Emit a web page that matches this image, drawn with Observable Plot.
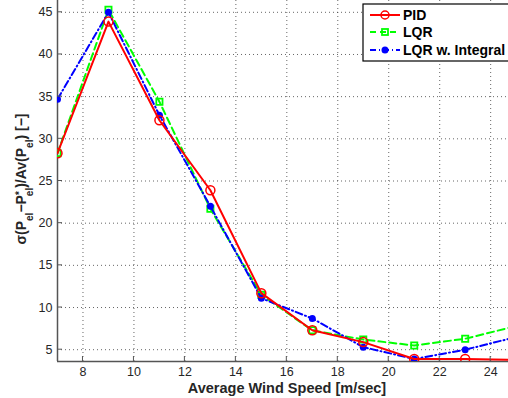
<!DOCTYPE html>
<html><head><meta charset="utf-8">
<script src="https://cdn.jsdelivr.net/npm/d3@7"></script>
<script src="https://cdn.jsdelivr.net/npm/@observablehq/plot@0.6"></script>
<style>body{margin:0;background:#fff}</style>
</head><body><div id="chart"></div>
<script>
const windSpeed = [7, 9, 11, 13, 15, 17, 19, 21, 23, 25];
const pid = [28.3, 43.9, 32.2, 23.9, 11.7, 7.3, 5.9, 3.9, 3.9, 3.8];
const lqr = [28.3, 45.3, 34.4, 21.7, 11.5, 7.3, 6.2, 5.5, 6.3, 7.8];
const lqrInt = [34.7, 45.0, 32.8, 22.0, 11.1, 8.7, 5.3, 3.9, 5.0, 6.5];
const xTicks = [8, 10, 12, 14, 16, 18, 20, 22, 24];
const yTicks = [5, 10, 15, 20, 25, 30, 35, 40, 45];
const seriesNames = ["PID", "LQR", "LQR w. Integral"];

const rows = (vals) => windSpeed.map((x, i) => ({x, y: vals[i]}));
const dPID = rows(pid), dLQR = rows(lqr), dInt = rows(lqrInt);

const font = "Liberation Sans, Arial, Helvetica, sans-serif";
const plot = Plot.plot({
  width: 508, height: 398,
  marginLeft: 57, marginRight: 0, marginTop: 0, marginBottom: 37,
  style: {fontFamily: font, fontSize: "12.5px", color: "#262626", background: "#fff"},
  x: {domain: [7, 24.7]},
  y: {domain: [3.6, 46.4]},
  marks: [
    Plot.gridX(xTicks, {stroke: "#333", strokeOpacity: 0.75, strokeDasharray: "1,3"}),
    Plot.gridY(yTicks, {stroke: "#333", strokeOpacity: 0.75, strokeDasharray: "1,3"}),
    Plot.axisX(xTicks, {tickSize: 0, tickPadding: 6, fontSize: 12.5, label: null}),
    Plot.axisY(yTicks, {tickSize: 0, tickPadding: 5, fontSize: 12.5, label: null}),
    Plot.ruleX([7], {stroke: "#555", strokeWidth: 1.5}),
    Plot.ruleY([3.6], {stroke: "#555", strokeWidth: 1.5}),
    Plot.line(dLQR, {x: "x", y: "y", stroke: "#00ff00", strokeWidth: 2, strokeDasharray: "7,4", clip: true}),
    Plot.dot(dLQR, {x: "x", y: "y", symbol: "square", r: 3.5, stroke: "#00ff00", strokeWidth: 1.8, fill: "none", clip: true}),
    Plot.line(dInt, {x: "x", y: "y", stroke: "#0000ff", strokeWidth: 2, strokeDasharray: "7,3,1,3", clip: true}),
    Plot.dot(dInt, {x: "x", y: "y", r: 3.5, fill: "#0000ff", stroke: "none", clip: true}),
    Plot.line(dPID, {x: "x", y: "y", stroke: "#ff0000", strokeWidth: 2, clip: true}),
    Plot.dot(dPID, {x: "x", y: "y", r: 4.5, stroke: "#ff0000", strokeWidth: 1.5, fill: "none", clip: true})
  ]
});
document.getElementById("chart").appendChild(plot);

const svg = d3.select(plot);
const xs = plot.scale("x"), ys = plot.scale("y");
// inward ticks
const tg = svg.append("g").attr("stroke", "#555");
xTicks.forEach(t => {
  const px = xs.apply(t);
  tg.append("line").attr("x1", px).attr("x2", px).attr("y1", 361).attr("y2", 356);
});
yTicks.forEach(t => {
  const py = ys.apply(t);
  tg.append("line").attr("x1", 57).attr("x2", 62).attr("y1", py).attr("y2", py);
});

// axis labels
svg.append("text").attr("x", 287).attr("y", 393).attr("text-anchor", "middle")
  .attr("font-family", font).attr("font-size", 14.5).attr("font-weight", "bold").attr("fill", "#262626")
  .text("Average Wind Speed [m/sec]");

const yl = svg.append("text").attr("transform", "translate(26,179) rotate(-90)")
  .attr("text-anchor", "middle").attr("font-family", font).attr("font-size", 14)
  .attr("font-weight", "bold").attr("fill", "#262626");
const parts = [["σ(P",0,0],["el",7,0],["−P",-7,0],["*",-3,0],["el",10,-5],[")/Av(P",-7,0],["el",7,0],[") [−]",-7,0]];
parts.forEach(([t, dy, dx]) => {
  const s = yl.append("tspan").attr("dy", dy).attr("dx", dx).text(t);
  if (t === "el" || t === "*") s.attr("font-size", 10);
});

// legend
const lg = svg.append("g").attr("text-anchor", "start");
lg.append("rect").attr("x", 363).attr("y", 4).attr("width", 150).attr("height", 57)
  .attr("fill", "#fff").attr("stroke", "#000").attr("stroke-width", 1.2);
const items = [
  {name: seriesNames[0], color: "#ff0000", dash: null, y: 15},
  {name: seriesNames[1], color: "#00ff00", dash: "6,4", y: 32},
  {name: seriesNames[2], color: "#0000ff", dash: "6,3,1,3", y: 50}
];
items.forEach((it, i) => {
  const l = lg.append("line").attr("x1", 370).attr("x2", 400).attr("y1", it.y).attr("y2", it.y)
    .attr("stroke", it.color).attr("stroke-width", 2);
  if (it.dash) l.attr("stroke-dasharray", it.dash);
  if (i === 0) lg.append("circle").attr("cx", 385).attr("cy", it.y).attr("r", 4).attr("fill", "none").attr("stroke", it.color).attr("stroke-width", 1.5);
  if (i === 1) lg.append("rect").attr("x", 382).attr("y", it.y - 3).attr("width", 6).attr("height", 6).attr("fill", "none").attr("stroke", it.color).attr("stroke-width", 1.8);
  if (i === 2) lg.append("circle").attr("cx", 385).attr("cy", it.y).attr("r", 3.5).attr("fill", it.color);
  lg.append("text").attr("x", 403).attr("y", it.y + 5).attr("text-anchor", "start").attr("font-family", font).attr("font-size", 14)
    .attr("font-weight", "bold").attr("fill", "#000").text(it.name);
});
</script></body></html>
